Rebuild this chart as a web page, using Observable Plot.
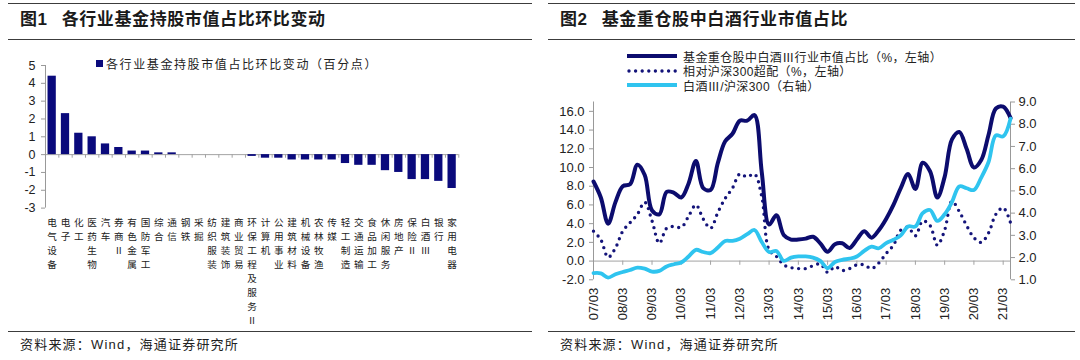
<!DOCTYPE html>
<html><head><meta charset="utf-8">
<script src="https://cdn.jsdelivr.net/npm/d3@7"></script>
<script src="https://cdn.jsdelivr.net/npm/@observablehq/plot@0.6"></script>
<style>
body{margin:0;width:1080px;height:360px;position:relative;background:#fff;overflow:hidden;font-family:"Liberation Sans","Noto Sans CJK SC",sans-serif;color:#222}
.rule{position:absolute;height:0;border-top:1.6px solid #3c3c3c}
.title{position:absolute;top:7px;font-family:"Liberation Sans","Noto Sans CJK SC";font-weight:bold;font-size:17px;line-height:26px;white-space:nowrap;color:#1a1a1a;letter-spacing:0.6px}
.title .t{margin-left:14px}
.src{position:absolute;top:335px;font-size:13px;line-height:20px;white-space:nowrap;letter-spacing:1.2px;color:#222}
.chart{position:absolute}
.leg{position:absolute;font-size:12px;white-space:nowrap;letter-spacing:0.4px;color:#222}
#leg1{letter-spacing:1.6px}
.leg .row{display:flex;align-items:center;height:14.5px}
.leg svg{display:block;margin-right:6px}
</style>
</head><body>
<div class="rule" style="left:8px;width:524px;top:3px"></div>
<div class="rule" style="left:8px;width:524px;top:39px"></div>
<div class="rule" style="left:548px;width:527px;top:3px"></div>
<div class="rule" style="left:548px;width:527px;top:39px"></div>
<div class="rule" style="left:8px;width:524px;top:331px"></div>
<div class="rule" style="left:548px;width:527px;top:331px"></div>
<div class="title" style="left:20px">图1<span class="t">各行业基金持股市值占比环比变动</span></div>
<div class="title" style="left:560px">图2<span class="t">基金重仓股中白酒行业市值占比</span></div>
<div class="src" style="left:20px">资料来源：Wind，海通证券研究所</div>
<div class="src" style="left:560px">资料来源：Wind，海通证券研究所</div>

<div class="leg" id="leg1" style="left:96px;top:56px"></div>
<div class="leg" id="leg2" style="left:627px;top:49px"></div>

<div class="chart" id="c1" style="left:0px;top:50px"></div>
<div class="chart" id="c2" style="left:540px;top:95px"></div>

<script>
// ---------- Figure 1 data ----------
const industries = ["电气设备","电子","化工","医药生物","汽车","券商Ⅱ","有色金属","国防军工","综合","通信","钢铁","采掘","纺织服装","建筑装饰","商业贸易","环保工程及服务Ⅱ","计算机","公用事业","建筑材料","机械设备","农林牧渔","传媒","轻工制造","交通运输","食品加工","休闲服务","房地产","保险Ⅱ","白酒Ⅲ","银行","家用电器"];
const changes = [4.4,2.3,1.2,1.0,0.6,0.4,0.2,0.2,0.1,0.1,0,0,0,0,0,-0.1,-0.2,-0.2,-0.3,-0.3,-0.3,-0.3,-0.5,-0.6,-0.6,-0.9,-1.0,-1.4,-1.4,-1.5,-1.9];
const yTicks1 = [5,4,3,2,1,0,-1,-2,-3];
const legend1 = "各行业基金持股市值占比环比变动（百分点）";

// ---------- Figure 2 data (quarterly, 2007Q1 – 2021Q2) ----------
const startYear = 2007;
const fundShare = [8.5,6.8,4.0,6.3,8.0,8.2,10.3,9.2,5.4,5.0,
  7.4,7.3,6.8,8.3,10.7,7.8,7.6,10.5,12.8,13.6,
  15.0,15.0,15.6,9.5,3.9,4.9,2.8,2.3,2.3,2.4,
  2.6,1.9,1.0,1.8,1.9,1.4,2.3,3.2,2.5,3.3,
  4.5,6.0,7.8,9.3,7.7,10.5,9.6,6.8,9.0,13.0,
  13.8,12.0,10.0,10.8,13.5,16.3,16.5,15.3];
const overweight = [3.2,2.3,0.4,1.4,3.2,4.1,5.0,6.3,4.3,1.9,
  3.5,3.7,3.6,4.8,6.0,4.5,3.5,5.2,6.7,7.8,
  9.3,9.0,9.3,6.9,1.2,0.5,-0.4,-0.7,-0.8,-0.8,
  -0.5,-0.3,-1.2,-0.6,-1.0,-0.8,-0.4,-0.4,-0.8,-0.2,
  0.8,1.7,3.3,3.6,2.7,4.3,3.8,1.7,3.3,6.4,
  5.3,3.8,2.5,2.0,3.0,5.0,5.7,4.1];
const baijiuRel = [1.30,1.29,1.10,1.25,1.35,1.44,1.55,1.50,1.37,1.40,
  1.60,1.70,1.78,2.05,2.35,2.25,2.20,2.45,2.75,2.75,
  2.85,3.05,3.24,2.70,2.25,2.30,1.85,2.00,2.05,2.05,
  2.00,1.85,1.52,1.80,1.90,1.95,2.05,2.30,2.49,2.42,
  2.65,2.80,3.00,3.40,3.40,4.00,4.14,3.65,3.95,4.50,
  5.20,5.12,5.04,5.60,6.30,7.50,7.45,8.25];
const xTickLabels = ["07/03","08/03","09/03","10/03","11/03","12/03","13/03","14/03","15/03","16/03","17/03","18/03","19/03","20/03","21/03"];
const yLeftTicks = [-2,0,2,4,6,8,10,12,14,16];
const yRightTicks = [1,2,3,4,5,6,7,8,9];
const seriesNames = ["基金重仓股中白酒Ⅲ行业市值占比（%，左轴）","相对沪深300超配（%，左轴）","白酒Ⅲ/沪深300（右轴）"];

// ---------- styles ----------
const barColor = "#0a0a7c";
const navy = "#0c0c6e";
const dotColor = "#14147a";
const cyan = "#2fc4ef";
const axisGray = "#a3a3a3";
const latin = "'Liberation Sans', Arial, 'Noto Sans CJK SC', sans-serif";
const cjk = "'Noto Sans CJK SC', sans-serif";

// legends
document.getElementById("leg1").innerHTML =
  `<div class="row"><svg width="7" height="7" style="margin-right:3px"><rect width="7" height="7" fill="${barColor}"/></svg><span>${legend1}</span></div>`;
const swatches = [
  `<line x1="0" x2="50" y1="7" y2="7" stroke="${navy}" stroke-width="4"/>`,
  `<line x1="2" x2="50" y1="7" y2="7" stroke="${dotColor}" stroke-width="3.4" stroke-linecap="round" stroke-dasharray="0 6.6"/>`,
  `<line x1="0" x2="50" y1="7" y2="7" stroke="${cyan}" stroke-width="4"/>`
];
document.getElementById("leg2").innerHTML = seriesNames.map((n,k) =>
  `<div class="row"><svg width="50" height="14">${swatches[k]}</svg><span>${n}</span></div>`).join("");

// ---------- Figure 1 ----------
const boundaries = d3.range(industries.length + 1).map(k => k - 0.5);
const c1 = Plot.plot({
  width: 480, height: 280,
  marginLeft: 45, marginRight: 21.7, marginTop: 15, marginBottom: 122.4,
  x: {domain: [-0.5, industries.length - 0.5], axis: null},
  y: {domain: [-3, 5], axis: null},
  style: {fontFamily: latin, background: "transparent", overflow: "visible"},
  marks: [
    Plot.ruleY([0], {stroke: axisGray}),
    Plot.ruleX(boundaries, {y1: 0, y2: -0.2, stroke: axisGray}),
    Plot.rectY(changes, {x1: (d, i) => i - 0.31, x2: (d, i) => i + 0.31, y: d => d, fill: barColor}),
    Plot.ruleX([-0.5], {stroke: "#999"}),
    Plot.axisY({ticks: yTicks1, tickSize: 4, tickPadding: 6, color: "#222", stroke: "#999", fontSize: 12.5, tickFormat: d => String(d)}),
    // category names written vertically, one character per line
    Plot.text(industries, {x: (d, i) => i, y: -3, dy: 8, text: d => [...d].join("\n"), lineAnchor: "top", lineHeight: 1.46, fontSize: 9.6, fill: "#222", fontFamily: cjk})
  ]
});
document.getElementById("c1").append(c1);

// ---------- Figure 2 ----------
const toLeft = v => -2 + (v - 1) * 19 / 8;
const toRight = v => (v + 2) * 8 / 19 + 1;
const xOf = (d, i) => startYear + i / 4;
const xTicks = xTickLabels.map((_, k) => startYear + k);
const xEnd = startYear + (fundShare.length - 1) / 4;
const c2 = Plot.plot({
  width: 540, height: 235,
  marginLeft: 53, marginRight: 70, marginTop: 6.5, marginBottom: 50.7,
  x: {domain: [startYear, xEnd], axis: null},
  y: {domain: [-2, 17], axis: null},
  style: {fontFamily: latin, background: "transparent", overflow: "visible"},
  marks: [
    Plot.ruleY([0], {stroke: axisGray}),
    Plot.ruleX(xTicks, {y1: 0, y2: -0.45, stroke: axisGray}),
    Plot.ruleX([startYear], {stroke: "#999"}),
    Plot.ruleX([xEnd], {stroke: "#999"}),
    Plot.axisY({anchor: "left", ticks: yLeftTicks, tickFormat: d => d.toFixed(1), tickSize: 4, tickPadding: 5, color: "#222", stroke: "#999", fontSize: 13}),
    Plot.axisY({anchor: "right", ticks: yRightTicks.map(toLeft), tickFormat: d => toRight(d).toFixed(1), tickSize: 4, tickPadding: 4, color: "#222", stroke: "#999", fontSize: 13}),
    Plot.axisX({ticks: xTicks, tickFormat: d => xTickLabels[xTicks.indexOf(d)], tickRotate: -90, tickSize: 0, tickPadding: 8, color: "#222", fontSize: 13}),
    Plot.line(overweight, {x: xOf, y: d => d, stroke: dotColor, strokeWidth: 3.4, strokeLinecap: "round", strokeDasharray: "0 6.6", curve: "catmull-rom"}),
    Plot.line(fundShare, {x: xOf, y: d => d, stroke: navy, strokeWidth: 4, curve: "catmull-rom"}),
    Plot.line(baijiuRel, {x: xOf, y: d => toLeft(d), stroke: cyan, strokeWidth: 3.8, curve: "catmull-rom"})
  ]
});
document.getElementById("c2").append(c2);
</script>
</body></html>
